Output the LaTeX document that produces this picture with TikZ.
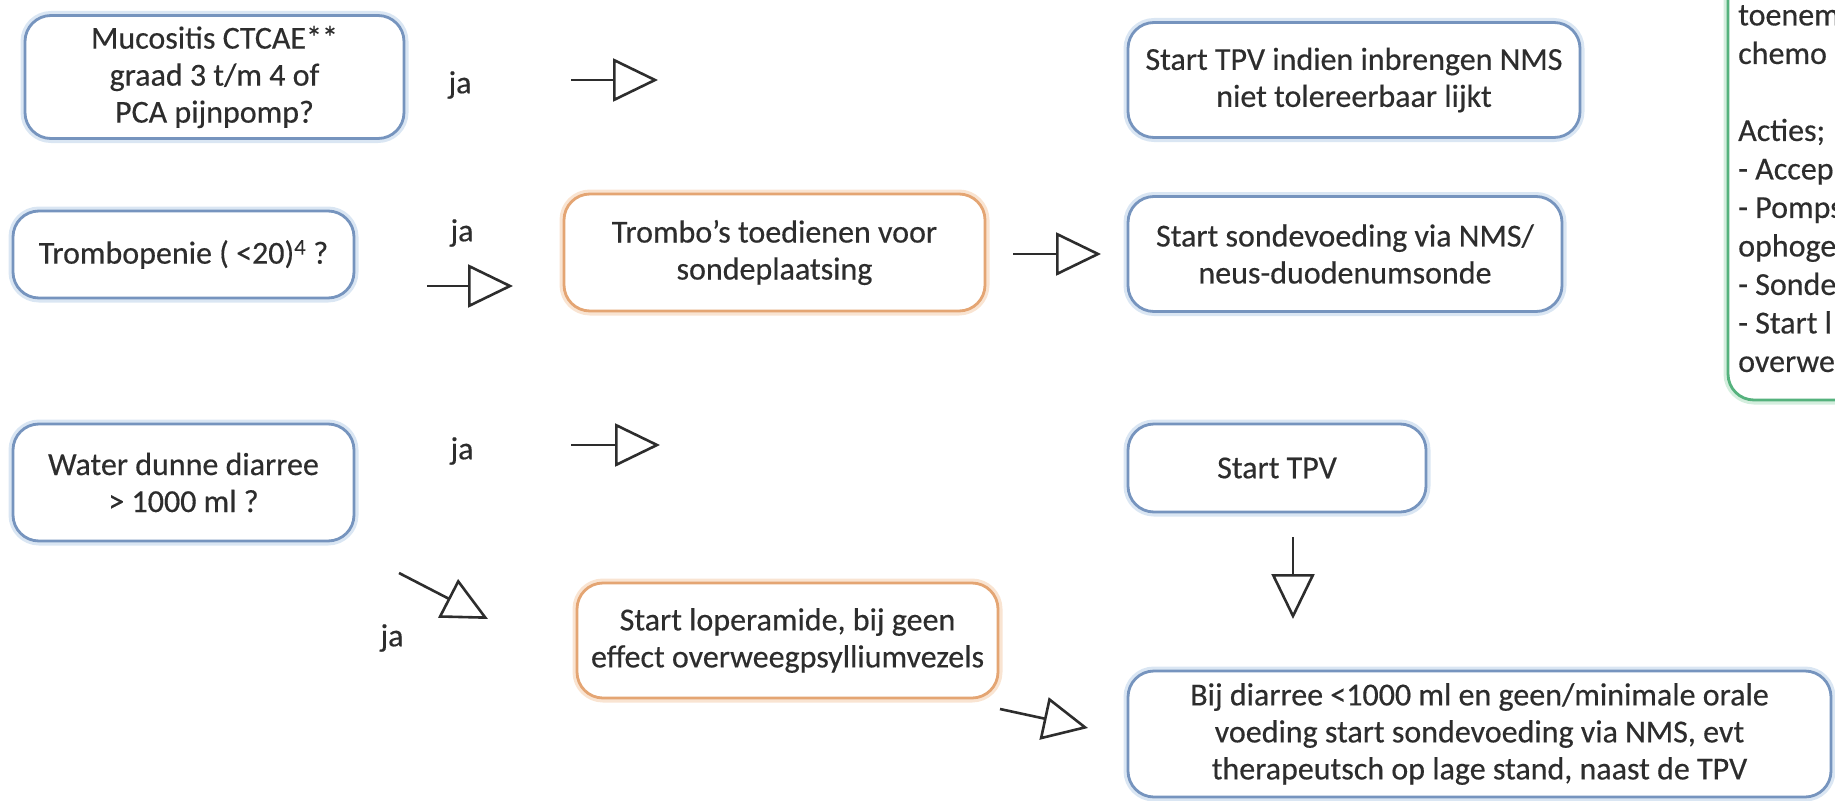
\documentclass[tikz,border=0pt]{standalone}
\usepackage{fontspec}
\setmainfont{Carlito}[FakeBold=0.4]
\usetikzlibrary{arrows.meta}
\definecolor{boxblue}{RGB}{118,148,190}
\definecolor{glowblue}{RGB}{218,230,243}
\definecolor{boxorange}{RGB}{228,165,115}
\definecolor{gloworange}{RGB}{249,228,210}
\definecolor{boxgreen}{RGB}{85,178,125}
\definecolor{glowgreen}{RGB}{212,238,222}
\definecolor{txt}{RGB}{45,45,45}
\tikzset{
  every node/.style={font=\fontsize{32}{37}\selectfont, text=txt},
  basebox/.style={rectangle, rounded corners=26pt, line width=2.8pt, fill=white,
    align=center, inner ysep=0pt, inner xsep=6pt},
  bluebox/.style={basebox, draw=boxblue, preaction={draw=glowblue, line width=9pt}},
  orangebox/.style={basebox, draw=boxorange, preaction={draw=gloworange, line width=9pt}},
  greenbox/.style={basebox, draw=boxgreen, preaction={draw=glowgreen, line width=9pt}},
  flowarrow/.style={draw=txt, line width=2.6pt,
    -{Triangle[open, length=45pt, width=43pt]}},
  yeslabel/.style={inner sep=0pt}
}
\begin{document}
\begin{tikzpicture}[x=1pt, y=-1pt]
\useasboundingbox (0,0) rectangle (1835,800);
\begin{scope}
\clip (0,0) rectangle (1835,800);

% row 1
\node[bluebox, minimum width=379pt, minimum height=123pt] (muco) at (214.5,77)
  {Mucositis CTCAE**\\graad 3 t/m 4 of\\PCA pijnpomp?};
\node[yeslabel] (ja1) at (460,85) {ja};
\coordinate (a1s) at (571,80);
\coordinate (a1e) at (658,80);
\draw[flowarrow] (a1s) -- (a1e);
\node[bluebox, minimum width=452pt, minimum height=115pt] (tpvnms) at (1354,80)
  {Start TPV indien inbrengen NMS\\niet tolereerbaar lijkt};

% green note box (partly outside the picture)
\node[greenbox, minimum width=250pt, minimum height=460pt] (notes) at (1853,170) {};
\node[anchor=north west, align=left, inner sep=0pt,
      font=\fontsize{32}{38.5}\selectfont] (notetext) at (1738,5)
  {toenem\\chemo\\[38.5pt]Acties;\\- Accep\\- Pomps\\ophoge\\- Sonde\\- Start l\\overwe};

% row 2
\node[bluebox, minimum width=341pt, minimum height=87pt] (trombo) at (183.5,254.5)
  {Trombopenie ( <20)\textsuperscript{4} ?};
\node[yeslabel] (ja2) at (462,233) {ja};
\coordinate (a2s) at (427,286);
\coordinate (a2e) at (513,286);
\draw[flowarrow] (a2s) -- (a2e);
\node[orangebox, minimum width=421pt, minimum height=117pt] (tromboact) at (774.5,252.5)
  {Trombo’s toedienen voor\\sondeplaatsing};
\coordinate (a3s) at (1013,254);
\coordinate (a3e) at (1101,254);
\draw[flowarrow] (a3s) -- (a3e);
\node[bluebox, minimum width=434pt, minimum height=115pt] (sonde) at (1345,254)
  {Start sondevoeding via NMS/\\neus-duodenumsonde};

% row 3
\node[bluebox, minimum width=341pt, minimum height=117pt] (water) at (183.5,482.5)
  {Water dunne diarree\\> 1000 ml ?};
\node[yeslabel] (ja3) at (462,451) {ja};
\coordinate (a4s) at (571,445);
\coordinate (a4e) at (660,445);
\draw[flowarrow] (a4s) -- (a4e);
\node[bluebox, minimum width=298pt, minimum height=88pt] (tpv) at (1277,468)
  {Start TPV};
\coordinate (a5s) at (1293,537);
\coordinate (a5e) at (1293,619);
\draw[flowarrow] (a5s) -- (a5e);

% lower part
\coordinate (a6s) at (399,573);
\coordinate (a6e) at (488,619);
\draw[flowarrow] (a6s) -- (a6e);
\node[yeslabel] (ja4) at (392,638) {ja};
\node[orangebox, minimum width=421pt, minimum height=115pt] (lope) at (787.5,640.5)
  {Start loperamide, bij geen\\effect overweegpsylliumvezels};
\coordinate (a7s) at (1000,709);
\coordinate (a7e) at (1088,728);
\draw[flowarrow] (a7s) -- (a7e);
\node[bluebox, minimum width=703pt, minimum height=126pt] (final) at (1479.5,734)
  {Bij diarree <1000 ml en geen/minimale orale\\voeding start sondevoeding via NMS, evt\\therapeutsch op lage stand, naast de TPV};
\end{scope}
\end{tikzpicture}
\end{document}
